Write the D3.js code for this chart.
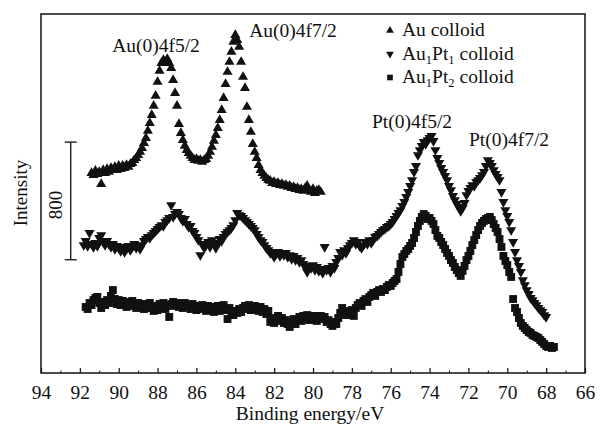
<!DOCTYPE html>
<html>
<head>
<meta charset="utf-8">
<script src="https://cdn.jsdelivr.net/npm/d3@7"></script>
<style>
  body { margin: 0; background: #fff; }
  svg text { font-family: "Liberation Serif", "DejaVu Serif", serif; fill: #111; }
</style>
</head>
<body>
<svg id="chart" width="600" height="424"></svg>
<script>
// XPS spectra, 0.1 eV steps, counts
const stepEV = 0.1;
const auStart = 91.4;
const auPt1Start = 91.8;
const auPt2Start = 91.7;

const auColloid = [
  1360,1346,1374,1353,1367,1285,1380,1360,1387,1367,
  1394,1380,1401,1380,1408,1387,1408,1394,1414,1401,
  1421,1428,1448,1462,1482,1503,1530,1564,1598,1646,
  1700,1754,1816,1884,1979,2054,2108,2128,2115,2135,
  2108,2074,1992,1904,1816,1693,1632,1584,1544,1516,
  1496,1476,1462,1448,1455,1442,1448,1435,1448,1455,
  1476,1503,1537,1578,1618,1666,1720,1788,1870,1965,
  2047,2115,2183,2251,2298,2264,2217,2115,2013,1938,
  1809,1720,1639,1557,1503,1462,1414,1380,1360,1340,
  1326,1312,1306,1292,1299,1285,1292,1278,1285,1272,
  1278,1265,1272,1258,1265,1251,1258,1244,1251,1238,
  1258,1272,1244,1231,1251,1224,1238,1244,1231
];

const auPt1Colloid = [
  870,898,864,952,877,857,884,864,918,938,
  891,870,898,877,857,877,843,864,850,830,
  857,823,843,864,836,857,877,850,864,843,
  870,898,911,925,918,938,952,966,979,993,
  1006,1000,1027,1040,1054,1142,1061,1081,1095,1081,
  1054,1034,1047,1013,993,1000,966,952,925,904,
  802,877,850,870,891,857,904,884,850,877,
  911,898,925,945,959,972,986,1006,1040,1088,
  1074,1068,1054,1040,1027,1013,1000,986,972,945,
  925,904,891,870,850,836,816,823,789,809,
  823,796,816,802,816,789,802,775,796,768,
  782,755,768,741,721,687,728,714,734,700,
  721,694,707,680,857,700,714,687,728,714,
  755,782,823,802,836,816,850,870,884,904,
  877,891,864,850,870,891,877,904,884,904,
  925,932,945,959,972,979,993,1000,1013,1027,
  1047,1068,1088,1108,1136,1163,1197,1231,1272,1312,
  1367,1408,1482,1516,1544,1571,1557,1584,1598,1612,
  1578,1516,1462,1428,1394,1367,1340,1312,1272,1244,
  1204,1176,1149,1129,1102,1122,1156,1210,1238,1258,
  1278,1272,1299,1312,1326,1346,1367,1408,1448,1428,
  1408,1380,1353,1333,1312,1231,1163,1108,1068,1027,
  972,891,823,768,728,687,632,598,564,537,
  510,496,476,462,442,428,415,394,381
];

const auPt2Colloid = [
  449,435,476,462,496,510,517,476,442,483,
  462,496,476,524,564,503,469,496,462,490,
  476,449,483,456,490,469,442,476,456,462,
  435,469,442,476,449,422,456,428,469,442,
  476,435,456,381,469,483,456,476,449,469,
  442,476,456,462,435,469,449,428,456,442,
  462,435,422,456,428,449,415,435,456,422,
  442,462,428,367,442,415,394,422,408,435,
  415,442,456,435,462,428,449,456,435,422,
  449,415,435,401,422,347,374,340,367,388,
  354,374,340,360,333,313,347,367,333,360,
  381,354,388,367,394,360,381,367,388,354,
  374,388,367,381,347,360,333,320,347,333,
  374,408,442,415,394,422,401,428,388,442,
  462,476,456,490,503,483,517,530,544,524,
  551,564,551,571,564,585,598,592,612,626,
  639,687,741,789,809,830,843,864,884,918,
  959,1000,1034,1061,1081,1068,1047,1054,1034,1013,
  972,932,918,891,870,843,816,796,768,748,
  721,700,680,660,694,728,768,796,830,870,
  904,938,972,1000,1020,1034,1047,1054,1061,1040,
  1013,986,959,911,857,796,762,734,687,653,
  503,442,415,374,340,320,306,292,279,272,
  258,252,245,238,224,211,197,184,177,184,
  170,177
];

const xTicks = [94, 92, 90, 88, 86, 84, 82, 80, 78, 76, 74, 72, 70, 68, 66];
const scaleBarCounts = 800;
const peakNames = ["Au(0)4f5/2", "Au(0)4f7/2", "Pt(0)4f5/2", "Pt(0)4f7/2"];

const fontSize = "19.5px";

// set the dimensions and margins of the graph
const margin = { top: 14, right: 15, bottom: 51, left: 41 },
  width = 600 - margin.left - margin.right,
  height = 424 - margin.top - margin.bottom;

const svg = d3
  .select("#chart")
  .append("g")
  .attr("transform", `translate(${margin.left},${margin.top})`);

const x = d3.scaleLinear().domain([94, 66]).range([0, width]);
const y = d3.scaleLinear().domain([0, 2441]).range([height, 0]);

const toPoints = (start, values) =>
  values.map((v, i) => ({ e: start - i * stepEV, v: v }));

// frame
svg
  .append("rect")
  .attr("width", width)
  .attr("height", height)
  .attr("fill", "none")
  .attr("stroke", "#111")
  .attr("stroke-width", 1.5);

// bottom axis, ticks pointing in
const xAxis = svg
  .append("g")
  .attr("transform", `translate(0,${height})`)
  .call(
    d3.axisBottom(x).tickValues(xTicks).tickSize(-5).tickPadding(12).tickFormat(d3.format("d"))
  );
xAxis.select(".domain").remove();
xAxis.selectAll("line").attr("stroke", "#111").attr("stroke-width", 1.2);
xAxis
  .selectAll("text")
  .style("font-family", '"Liberation Serif", serif')
  .style("font-size", fontSize)
  .attr("fill", "#111");

const minor = svg
  .append("g")
  .attr("transform", `translate(0,${height})`)
  .call(d3.axisBottom(x).tickValues(d3.range(93, 66, -2)).tickSize(-2.5).tickFormat(""));
minor.select(".domain").remove();
minor.selectAll("line").attr("stroke", "#111").attr("stroke-width", 1);

svg
  .append("text")
  .attr("x", width / 2 - 3)
  .attr("y", height + 47)
  .style("text-anchor", "middle")
  .style("font-size", fontSize)
  .text("Binding energy/eV");

svg
  .append("text")
  .attr("transform", `translate(${27 - margin.left},${193 - margin.top}) rotate(-90)`)
  .style("text-anchor", "middle")
  .style("font-size", "19px")
  .text("Intensity");

// 800 counts scale bar
const barX = x(92.47);
const bar = svg.append("g").attr("stroke", "#111").attr("stroke-width", 1.3);
bar.append("line")
  .attr("x1", barX).attr("x2", barX)
  .attr("y1", y(770)).attr("y2", y(770 + scaleBarCounts));
[770, 770 + scaleBarCounts].forEach((c) => {
  bar.append("line")
    .attr("x1", barX - 6).attr("x2", barX + 6)
    .attr("y1", y(c)).attr("y2", y(c));
});
svg
  .append("text")
  .attr("transform", `translate(${barX - 9},${y(770 + scaleBarCounts / 2) + 4}) rotate(-90)`)
  .style("text-anchor", "middle")
  .style("font-size", "19px")
  .text(scaleBarCounts);

// markers
const triUp = d3.symbol().type(d3.symbolTriangle).size(44)();
const square = d3.symbol().type(d3.symbolSquare).size(62)();

const series = [
  { pts: toPoints(auStart, auColloid), path: triUp, rot: 0 },
  { pts: toPoints(auPt1Start, auPt1Colloid), path: triUp, rot: 180 },
  { pts: toPoints(auPt2Start, auPt2Colloid), path: square, rot: 0 },
];

series.forEach((s) => {
  svg
    .append("g")
    .selectAll("path")
    .data(s.pts)
    .join("path")
    .attr("d", s.path)
    .attr("fill", "#111")
    .attr("transform", (d) => `translate(${x(d.e)},${y(d.v)}) rotate(${s.rot})`);
});

// peak labels
const peakPos = [
  [156, 52], [293, 37], [412, 128], [509, 146],
];
peakNames.forEach((name, i) => {
  svg
    .append("text")
    .attr("x", peakPos[i][0] - margin.left)
    .attr("y", peakPos[i][1] - margin.top)
    .style("text-anchor", "middle")
    .style("font-size", fontSize)
    .text(name);
});

// legend
const legendRows = [
  { sym: d3.symbol().type(d3.symbolTriangle).size(26)(), rot: 0, parts: [["Au colloid", false]] },
  { sym: d3.symbol().type(d3.symbolTriangle).size(26)(), rot: 180,
    parts: [["Au", false], ["1", true], ["Pt", false], ["1", true], [" colloid", false]] },
  { sym: d3.symbol().type(d3.symbolSquare).size(32)(), rot: 0,
    parts: [["Au", false], ["1", true], ["Pt", false], ["2", true], [" colloid", false]] },
];
const legend = svg.append("g").attr("transform", `translate(${390 - margin.left},${36 - margin.top})`);
legendRows.forEach((row, i) => {
  const g = legend.append("g").attr("transform", `translate(0,${i * 23.5})`);
  g.append("path")
    .attr("d", row.sym)
    .attr("fill", "#111")
    .attr("transform", `translate(0,-5.5) rotate(${row.rot})`);
  const t = g.append("text").attr("x", 12).attr("y", 0).style("font-size", fontSize);
  row.parts.forEach(([txt, sub], j) => {
    const prevSub = j > 0 && row.parts[j - 1][1];
    t.append("tspan")
      .attr("dy", sub ? 4 : prevSub ? -4 : 0)
      .style("font-size", sub ? "12.5px" : fontSize)
      .text(txt);
  });
});
</script>
</body>
</html>
